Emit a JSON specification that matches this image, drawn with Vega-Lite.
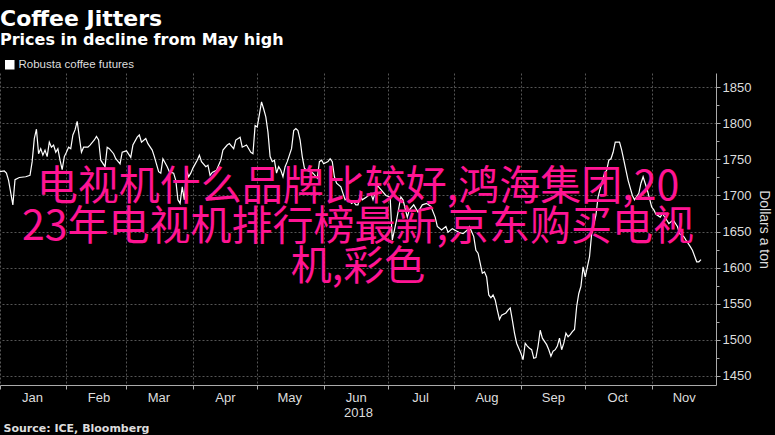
{
  "$schema": "https://vega.github.io/schema/vega-lite/v6.json",
  "width": 716,
  "height": 312,
  "autosize": {"type": "none"},
  "padding": {"left": 0, "top": 73, "right": 59, "bottom": 50},
  "background": "#000000",
  "title": {
    "text": "Coffee Jitters",
    "subtitle": "Prices in decline from May high",
    "anchor": "start",
    "frame": "group",
    "font": "DejaVu Sans",
    "fontSize": 22,
    "fontWeight": "bold",
    "color": "#ffffff",
    "subtitleFont": "DejaVu Sans",
    "subtitleFontSize": 16,
    "subtitleFontWeight": "bold",
    "subtitleColor": "#ffffff",
    "subtitlePadding": 1,
    "offset": 10
  },
  "config": {"view": {"stroke": null}},
  "resolve": {"axis": {"x": "independent", "y": "independent"}},
  "layer": [
    {
      "data": {
        "format": {"parse": {"date": "date:'%Y-%m-%d'"}},
        "values": [
          {"date": "2018-01-01", "price": 1733}, {"date": "2018-01-03", "price": 1734}, {"date": "2018-01-04", "price": 1731},
          {"date": "2018-01-05", "price": 1721}, {"date": "2018-01-07", "price": 1687}, {"date": "2018-01-08", "price": 1722},
          {"date": "2018-01-10", "price": 1725}, {"date": "2018-01-13", "price": 1726}, {"date": "2018-01-15", "price": 1728},
          {"date": "2018-01-16", "price": 1747}, {"date": "2018-01-17", "price": 1779}, {"date": "2018-01-18", "price": 1792},
          {"date": "2018-01-19", "price": 1758}, {"date": "2018-01-20", "price": 1765}, {"date": "2018-01-21", "price": 1756},
          {"date": "2018-01-22", "price": 1763}, {"date": "2018-01-23", "price": 1754}, {"date": "2018-01-24", "price": 1774},
          {"date": "2018-01-25", "price": 1767}, {"date": "2018-01-26", "price": 1770}, {"date": "2018-01-27", "price": 1760},
          {"date": "2018-01-28", "price": 1765}, {"date": "2018-01-29", "price": 1749}, {"date": "2018-01-30", "price": 1736},
          {"date": "2018-01-31", "price": 1754}, {"date": "2018-02-01", "price": 1760}, {"date": "2018-02-02", "price": 1767},
          {"date": "2018-02-03", "price": 1765}, {"date": "2018-02-04", "price": 1784}, {"date": "2018-02-05", "price": 1791},
          {"date": "2018-02-06", "price": 1803}, {"date": "2018-02-07", "price": 1781}, {"date": "2018-02-08", "price": 1760},
          {"date": "2018-02-09", "price": 1767}, {"date": "2018-02-11", "price": 1767}, {"date": "2018-02-12", "price": 1770},
          {"date": "2018-02-14", "price": 1777}, {"date": "2018-02-15", "price": 1782}, {"date": "2018-02-16", "price": 1777},
          {"date": "2018-02-17", "price": 1749}, {"date": "2018-02-19", "price": 1740}, {"date": "2018-02-20", "price": 1767},
          {"date": "2018-02-21", "price": 1765}, {"date": "2018-02-23", "price": 1758}, {"date": "2018-02-24", "price": 1751},
          {"date": "2018-02-26", "price": 1744}, {"date": "2018-02-27", "price": 1760}, {"date": "2018-03-01", "price": 1762},
          {"date": "2018-03-03", "price": 1753}, {"date": "2018-03-04", "price": 1770}, {"date": "2018-03-06", "price": 1781},
          {"date": "2018-03-07", "price": 1784}, {"date": "2018-03-08", "price": 1774}, {"date": "2018-03-10", "price": 1779},
          {"date": "2018-03-11", "price": 1772}, {"date": "2018-03-13", "price": 1763}, {"date": "2018-03-14", "price": 1754},
          {"date": "2018-03-16", "price": 1733}, {"date": "2018-03-17", "price": 1731}, {"date": "2018-03-18", "price": 1751},
          {"date": "2018-03-20", "price": 1740}, {"date": "2018-03-21", "price": 1733}, {"date": "2018-03-23", "price": 1731},
          {"date": "2018-03-24", "price": 1721}, {"date": "2018-03-25", "price": 1694}, {"date": "2018-03-26", "price": 1689},
          {"date": "2018-03-27", "price": 1712}, {"date": "2018-03-28", "price": 1694}, {"date": "2018-03-29", "price": 1735},
          {"date": "2018-03-30", "price": 1726}, {"date": "2018-03-31", "price": 1731}, {"date": "2018-04-01", "price": 1738},
          {"date": "2018-04-03", "price": 1749}, {"date": "2018-04-04", "price": 1756}, {"date": "2018-04-05", "price": 1747},
          {"date": "2018-04-07", "price": 1740}, {"date": "2018-04-08", "price": 1742}, {"date": "2018-04-09", "price": 1728},
          {"date": "2018-04-10", "price": 1732}, {"date": "2018-04-12", "price": 1735}, {"date": "2018-04-14", "price": 1749},
          {"date": "2018-04-15", "price": 1763}, {"date": "2018-04-17", "price": 1770}, {"date": "2018-04-18", "price": 1772},
          {"date": "2018-04-20", "price": 1765}, {"date": "2018-04-21", "price": 1777}, {"date": "2018-04-23", "price": 1781},
          {"date": "2018-04-24", "price": 1767}, {"date": "2018-04-26", "price": 1770}, {"date": "2018-04-28", "price": 1760},
          {"date": "2018-04-29", "price": 1758}, {"date": "2018-04-30", "price": 1797}, {"date": "2018-05-01", "price": 1795},
          {"date": "2018-05-03", "price": 1830}, {"date": "2018-05-04", "price": 1820}, {"date": "2018-05-05", "price": 1809},
          {"date": "2018-05-06", "price": 1788}, {"date": "2018-05-07", "price": 1754}, {"date": "2018-05-08", "price": 1747},
          {"date": "2018-05-09", "price": 1749}, {"date": "2018-05-10", "price": 1731}, {"date": "2018-05-11", "price": 1740},
          {"date": "2018-05-12", "price": 1735}, {"date": "2018-05-13", "price": 1726}, {"date": "2018-05-14", "price": 1740},
          {"date": "2018-05-15", "price": 1747}, {"date": "2018-05-16", "price": 1756}, {"date": "2018-05-17", "price": 1765},
          {"date": "2018-05-18", "price": 1790}, {"date": "2018-05-19", "price": 1793}, {"date": "2018-05-20", "price": 1790},
          {"date": "2018-05-21", "price": 1777}, {"date": "2018-05-22", "price": 1754}, {"date": "2018-05-23", "price": 1738},
          {"date": "2018-05-24", "price": 1735}, {"date": "2018-05-26", "price": 1733}, {"date": "2018-05-27", "price": 1731},
          {"date": "2018-05-29", "price": 1724}, {"date": "2018-05-30", "price": 1747}, {"date": "2018-05-31", "price": 1749},
          {"date": "2018-06-01", "price": 1744}, {"date": "2018-06-03", "price": 1747}, {"date": "2018-06-04", "price": 1751},
          {"date": "2018-06-05", "price": 1747}, {"date": "2018-06-06", "price": 1726}, {"date": "2018-06-07", "price": 1717},
          {"date": "2018-06-09", "price": 1712}, {"date": "2018-06-10", "price": 1703}, {"date": "2018-06-11", "price": 1694},
          {"date": "2018-06-12", "price": 1696}, {"date": "2018-06-14", "price": 1689}, {"date": "2018-06-15", "price": 1691},
          {"date": "2018-06-16", "price": 1687}, {"date": "2018-06-17", "price": 1687}, {"date": "2018-06-18", "price": 1700},
          {"date": "2018-06-19", "price": 1694}, {"date": "2018-06-21", "price": 1698}, {"date": "2018-06-23", "price": 1703},
          {"date": "2018-06-24", "price": 1694}, {"date": "2018-06-26", "price": 1714}, {"date": "2018-06-28", "price": 1707},
          {"date": "2018-06-30", "price": 1700}, {"date": "2018-07-02", "price": 1698}, {"date": "2018-07-03", "price": 1638},
          {"date": "2018-07-05", "price": 1666}, {"date": "2018-07-07", "price": 1698}, {"date": "2018-07-08", "price": 1694},
          {"date": "2018-07-10", "price": 1670}, {"date": "2018-07-11", "price": 1680}, {"date": "2018-07-13", "price": 1687},
          {"date": "2018-07-15", "price": 1677}, {"date": "2018-07-17", "price": 1687}, {"date": "2018-07-19", "price": 1689},
          {"date": "2018-07-21", "price": 1685}, {"date": "2018-07-23", "price": 1670}, {"date": "2018-07-24", "price": 1657},
          {"date": "2018-07-26", "price": 1652}, {"date": "2018-07-28", "price": 1657}, {"date": "2018-07-29", "price": 1649},
          {"date": "2018-07-31", "price": 1654}, {"date": "2018-08-03", "price": 1649}, {"date": "2018-08-05", "price": 1647},
          {"date": "2018-08-07", "price": 1652}, {"date": "2018-08-08", "price": 1657}, {"date": "2018-08-10", "price": 1643},
          {"date": "2018-08-11", "price": 1624}, {"date": "2018-08-12", "price": 1620}, {"date": "2018-08-14", "price": 1592},
          {"date": "2018-08-15", "price": 1594}, {"date": "2018-08-16", "price": 1587}, {"date": "2018-08-17", "price": 1562},
          {"date": "2018-08-18", "price": 1558}, {"date": "2018-08-19", "price": 1562}, {"date": "2018-08-20", "price": 1555},
          {"date": "2018-08-21", "price": 1541}, {"date": "2018-08-22", "price": 1528}, {"date": "2018-08-23", "price": 1534},
          {"date": "2018-08-25", "price": 1537}, {"date": "2018-08-26", "price": 1541}, {"date": "2018-08-27", "price": 1544},
          {"date": "2018-08-28", "price": 1527}, {"date": "2018-08-29", "price": 1509}, {"date": "2018-08-30", "price": 1495},
          {"date": "2018-09-01", "price": 1481}, {"date": "2018-09-02", "price": 1472}, {"date": "2018-09-03", "price": 1495},
          {"date": "2018-09-04", "price": 1491}, {"date": "2018-09-05", "price": 1488}, {"date": "2018-09-06", "price": 1486},
          {"date": "2018-09-07", "price": 1474}, {"date": "2018-09-08", "price": 1475}, {"date": "2018-09-09", "price": 1491},
          {"date": "2018-09-10", "price": 1513}, {"date": "2018-09-11", "price": 1502}, {"date": "2018-09-13", "price": 1493},
          {"date": "2018-09-14", "price": 1486}, {"date": "2018-09-15", "price": 1477}, {"date": "2018-09-16", "price": 1484},
          {"date": "2018-09-17", "price": 1486}, {"date": "2018-09-18", "price": 1491}, {"date": "2018-09-19", "price": 1502},
          {"date": "2018-09-20", "price": 1486}, {"date": "2018-09-21", "price": 1495}, {"date": "2018-09-22", "price": 1509},
          {"date": "2018-09-23", "price": 1504}, {"date": "2018-09-24", "price": 1507}, {"date": "2018-09-25", "price": 1511},
          {"date": "2018-09-26", "price": 1514}, {"date": "2018-09-27", "price": 1546}, {"date": "2018-09-28", "price": 1564},
          {"date": "2018-09-29", "price": 1574}, {"date": "2018-09-30", "price": 1601}, {"date": "2018-10-01", "price": 1587},
          {"date": "2018-10-02", "price": 1601}, {"date": "2018-10-03", "price": 1615}, {"date": "2018-10-04", "price": 1647},
          {"date": "2018-10-06", "price": 1673}, {"date": "2018-10-07", "price": 1698}, {"date": "2018-10-09", "price": 1721},
          {"date": "2018-10-10", "price": 1731}, {"date": "2018-10-11", "price": 1735}, {"date": "2018-10-12", "price": 1749},
          {"date": "2018-10-13", "price": 1751}, {"date": "2018-10-14", "price": 1760}, {"date": "2018-10-15", "price": 1774},
          {"date": "2018-10-17", "price": 1774}, {"date": "2018-10-18", "price": 1763}, {"date": "2018-10-19", "price": 1749},
          {"date": "2018-10-20", "price": 1735}, {"date": "2018-10-21", "price": 1721}, {"date": "2018-10-23", "price": 1700},
          {"date": "2018-10-24", "price": 1694}, {"date": "2018-10-26", "price": 1703}, {"date": "2018-10-27", "price": 1717},
          {"date": "2018-10-28", "price": 1726}, {"date": "2018-10-30", "price": 1707}, {"date": "2018-11-01", "price": 1684},
          {"date": "2018-11-02", "price": 1680}, {"date": "2018-11-03", "price": 1674}, {"date": "2018-11-05", "price": 1670},
          {"date": "2018-11-06", "price": 1675}, {"date": "2018-11-08", "price": 1666}, {"date": "2018-11-09", "price": 1661},
          {"date": "2018-11-11", "price": 1666}, {"date": "2018-11-13", "price": 1657}, {"date": "2018-11-14", "price": 1647},
          {"date": "2018-11-16", "price": 1643}, {"date": "2018-11-17", "price": 1638}, {"date": "2018-11-19", "price": 1629},
          {"date": "2018-11-20", "price": 1624}, {"date": "2018-11-22", "price": 1608}, {"date": "2018-11-23", "price": 1608},
          {"date": "2018-11-24", "price": 1611}
        ]
      },
      "mark": {"type": "line", "strokeWidth": 1.2, "interpolate": "linear"},
      "encoding": {
        "x": {
          "field": "date",
          "type": "temporal",
          "scale": {"domain": [{"year": 2018, "month": 1, "date": 1}, {"year": 2018, "month": 12, "date": 1}]},
          "axis": {
            "orient": "bottom",
            "values": [
              {"year": 2018, "month": 1, "date": 1}, {"year": 2018, "month": 2, "date": 1}, {"year": 2018, "month": 3, "date": 1},
              {"year": 2018, "month": 4, "date": 1}, {"year": 2018, "month": 5, "date": 1}, {"year": 2018, "month": 6, "date": 1},
              {"year": 2018, "month": 7, "date": 1}, {"year": 2018, "month": 8, "date": 1}, {"year": 2018, "month": 9, "date": 1},
              {"year": 2018, "month": 10, "date": 1}, {"year": 2018, "month": 11, "date": 1}
            ],
            "format": "%b",
            "labelAlign": "center",
            "labelOffset": 32,
            "labelBound": false,
            "labelOverlap": false,
            "labelFlush": false,
            "labelFont": "Liberation Sans",
            "labelFontSize": 13,
            "labelColor": "#dddddd",
            "labelPadding": 2,
            "tickSize": 4,
            "tickColor": "#aaaaaa",
            "domainColor": "#aaaaaa",
            "grid": true,
            "gridColor": "#555555",
            "gridDash": [2, 2],
            "title": "2018",
            "titleFont": "Liberation Sans",
            "titleFontSize": 13,
            "titleFontWeight": "normal",
            "titleColor": "#dddddd",
            "titlePadding": 2
          }
        },
        "y": {
          "field": "price",
          "type": "quantitative",
          "scale": {"domain": [1437, 1870], "nice": false, "zero": false},
          "axis": {
            "orient": "right",
            "values": [1450, 1500, 1550, 1600, 1650, 1700, 1750, 1800, 1850],
            "format": "d",
            "labelFont": "Liberation Sans",
            "labelFontSize": 13,
            "labelColor": "#dddddd",
            "labelPadding": 2,
            "tickSize": 4,
            "tickColor": "#aaaaaa",
            "domainColor": "#aaaaaa",
            "grid": true,
            "gridColor": "#555555",
            "gridDash": [2, 2],
            "title": "Dollars a ton",
            "titleFont": "Liberation Sans",
            "titleFontSize": 14,
            "titleFontWeight": "normal",
            "titleColor": "#dddddd",
            "titleAngle": 90,
            "titlePadding": 6
          }
        },
        "color": {
          "datum": "Robusta coffee futures",
          "type": "nominal",
          "scale": {"range": ["#ffffff"]},
          "legend": {
            "orient": "none",
            "legendX": 4,
            "legendY": -14,
            "title": null,
            "symbolType": "square",
            "symbolSize": 64,
            "symbolFillColor": "#ffffff",
            "symbolStrokeColor": "#ffffff",
            "labelColor": "#dddddd",
            "labelFont": "Liberation Sans",
            "labelFontSize": 11.5,
            "labelOffset": 3
          }
        }
      }
    },
    {
      "data": {"values": [{"label": "电视机什么品牌比较好,鸿海集团,20\n23年电视机排行榜最新,京东购买电视\n机,彩色"}]},
      "mark": {
        "type": "text",
        "font": "Noto Sans CJK SC",
        "fontSize": 41,
        "lineHeight": 40,
        "lineBreak": "\n",
        "color": "#ff1493",
        "align": "center",
        "baseline": "middle"
      },
      "encoding": {
        "x": {
          "datum": {"year": 2018, "month": 6, "date": 17},
          "type": "temporal",
          "axis": {
            "orient": "bottom",
            "labels": false,
            "ticks": false,
            "domain": false,
            "grid": false,
            "title": "Source: ICE, Bloomberg",
            "titleFont": "DejaVu Sans",
            "titleFontSize": 11,
            "titleFontWeight": "bold",
            "titleColor": "#dddddd",
            "titleAnchor": "start",
            "titleAlign": "left",
            "titleBaseline": "alphabetic",
            "titleX": 3,
            "titleY": 46
          }
        },
        "y": {
          "datum": 1710,
          "type": "quantitative",
          "axis": {
            "orient": "right",
            "values": [1475, 1525, 1575, 1625, 1675, 1725, 1775, 1825],
            "labels": false,
            "grid": false,
            "domain": false,
            "tickSize": 3,
            "tickColor": "#aaaaaa",
            "title": null
          }
        },
        "text": {"field": "label"}
      }
    }
  ]
}
